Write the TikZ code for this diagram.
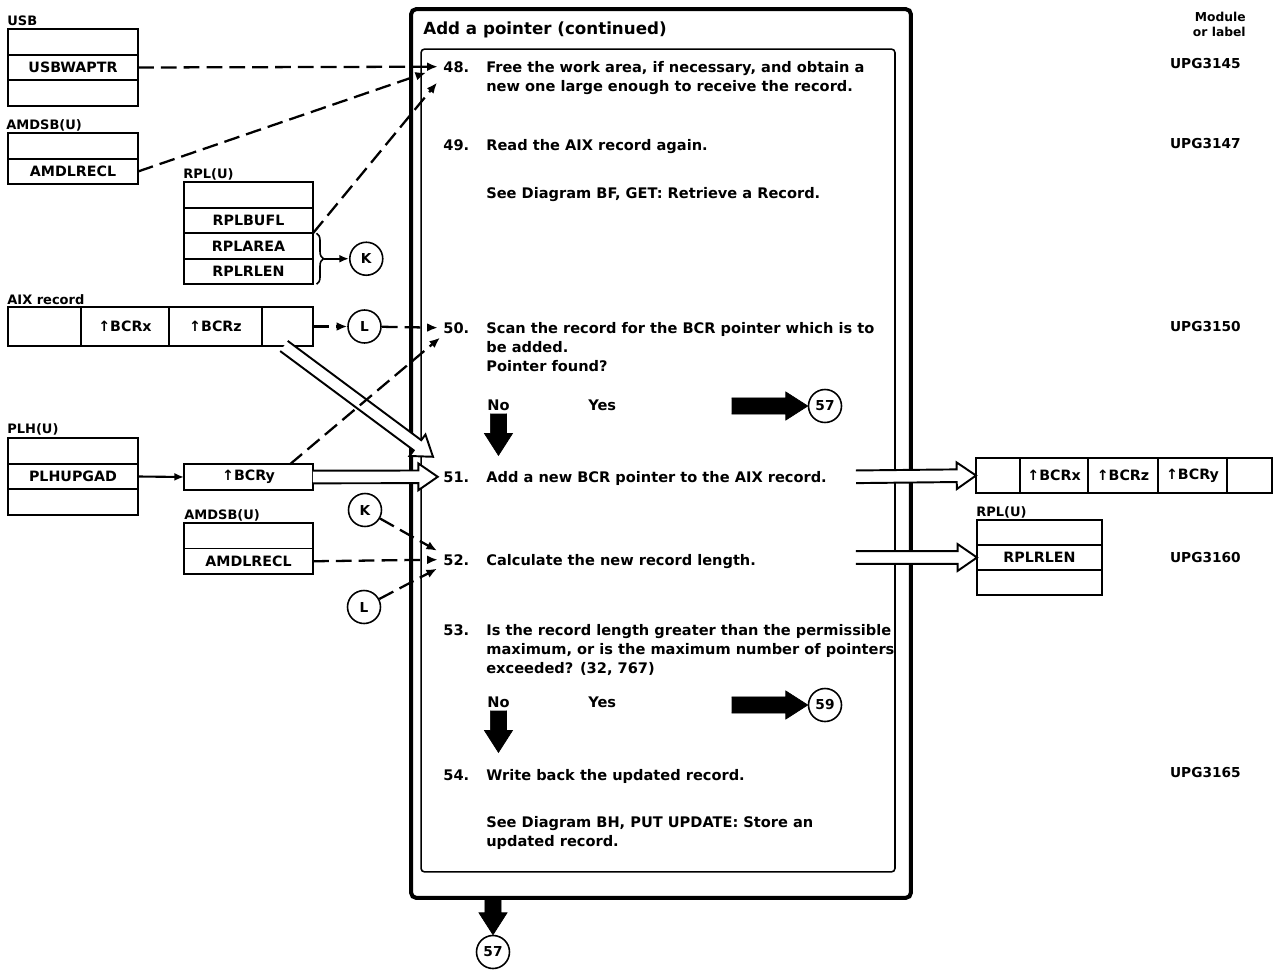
\documentclass[tikz,border=0pt]{standalone}
\usepackage{fontspec}
\setmainfont{DejaVu Sans}
\usetikzlibrary{positioning,calc,arrows.meta,decorations.pathreplacing}

\begin{document}
\begin{tikzpicture}[x=0.02cm,y=-0.02cm,
  lbl/.style={font=\bfseries\fontsize{7.4}{9}\selectfont,inner sep=0,anchor=base west},
  fld/.style={draw,line width=0.9pt,inner sep=0,outer sep=0,minimum height=0.51cm,
              font=\bfseries\fontsize{8.1}{9}\selectfont},
  num/.style={font=\bfseries\fontsize{8.3}{10.9}\selectfont,inner sep=0,anchor=base west},
  stp/.style={num,align=left},
  mod/.style={font=\bfseries\fontsize{7.8}{9}\selectfont,inner sep=0,anchor=base east},
  conn/.style={draw,circle,line width=0.9pt,minimum size=0.66cm,inner sep=0,
               font=\bfseries\fontsize{7.8}{9}\selectfont},
  dsh/.style={line width=1.3pt,dash pattern=on 9pt off 4pt,-{Latex[length=6pt,width=5pt]}},
  arr/.style={line width=1.2pt,-{Latex[length=5.5pt,width=4.5pt]}},
  fat/.style={to path={
    ($(\tikztostart)!\asw!90:(\tikztotarget)$)
    -- ($(\tikztotarget)!\ahl!(\tikztostart)!\asw!90:(\tikztotarget)$)
    -- ($(\tikztotarget)!\ahl!(\tikztostart)!\ahw!90:(\tikztotarget)$)
    -- (\tikztotarget)
    -- ($(\tikztotarget)!\ahl!(\tikztostart)!\ahw!-90:(\tikztotarget)$)
    -- ($(\tikztotarget)!\ahl!(\tikztostart)!\asw!-90:(\tikztotarget)$)
    -- ($(\tikztostart)!\asw!-90:(\tikztotarget)$)}},
  blk/.style={fat,fill=black,draw=black,line width=0.4pt,
              /utils/exec={\def\asw{4.6pt}\def\ahw{8pt}\def\ahl{12.5pt}}},
  hol/.style={fat,fill=white,draw=black,line width=1.1pt,line join=miter,
              /utils/exec={\def\asw{3.6pt}\def\ahw{7.6pt}\def\ahl{11pt}}}]
  \fill[white] (0,0) rectangle (1274,970);

  % frames
  \node[draw,line width=2.3pt,rounded corners=3pt,inner sep=0,outer sep=0,
        minimum width=10cm,minimum height=17.78cm] (frame) at (661,453.5) {};
  \node[draw,line width=0.9pt,rounded corners=2pt,inner sep=0,outer sep=0,
        minimum width=9.48cm,minimum height=16.46cm] (panel) at (658,460.5) {};
  \node[font=\bfseries\fontsize{9.5}{11}\selectfont,inner sep=0,anchor=base west]
        (title) at (423,34) {Add a pointer (continued)};
  \node[font=\bfseries\fontsize{7}{8.5}\selectfont,inner sep=0,anchor=north east,align=right]
        (modhd) at (1246,12) {Module\\or label};

  % control blocks, left
  \node[lbl] (usbl) at (7,26) {USB};
  \node[fld,minimum width=2.6cm] (usb1) at (73,42) {};
  \node[fld,minimum width=2.6cm,below=0pt of usb1] (usb2) {USBWAPTR};
  \node[fld,minimum width=2.6cm,below=0pt of usb2] (usb3) {};

  \node[lbl] (amdal) at (6,129) {AMDSB(U)};
  \node[fld,minimum width=2.6cm] (amda1) at (73,146) {};
  \node[fld,minimum width=2.6cm,below=0pt of amda1] (amda2) {AMDLRECL};

  \node[lbl] (rpll) at (183,178) {RPL(U)};
  \node[fld,minimum width=2.58cm] (rpl1) at (248.5,195) {};
  \node[fld,minimum width=2.58cm,below=0pt of rpl1] (rpl2) {RPLBUFL};
  \node[fld,minimum width=2.58cm,below=0pt of rpl2] (rpl3) {RPLAREA};
  \node[fld,minimum width=2.58cm,below=0pt of rpl3] (rpl4) {RPLRLEN};

  \node[lbl] (aixl) at (7,304) {AIX record};
  \node[fld,minimum width=1.46cm,minimum height=0.78cm] (aix1) at (44.5,326.5) {};
  \node[fld,minimum width=1.76cm,minimum height=0.78cm,right=0pt of aix1] (aix2) {↑BCRx};
  \node[fld,minimum width=1.86cm,minimum height=0.78cm,right=0pt of aix2] (aix3) {↑BCRz};
  \node[fld,minimum width=1.02cm,minimum height=0.78cm,right=0pt of aix3] (aix4) {};

  \node[lbl] (plhl) at (7,433) {PLH(U)};
  \node[fld,minimum width=2.6cm] (plh1) at (73,451) {};
  \node[fld,minimum width=2.6cm,below=0pt of plh1] (plh2) {PLHUPGAD};
  \node[fld,minimum width=2.6cm,below=0pt of plh2] (plh3) {};
  \node[fld,minimum width=2.58cm] (bcry) at (248.5,477) {↑BCRy};

  \node[lbl] (amdbl) at (184,519) {AMDSB(U)};
  \node[fld,minimum width=2.58cm] (amdb1) at (248.5,535.75) {};
  \node[fld,minimum width=2.58cm,below=0pt of amdb1] (amdb2) {AMDLRECL};

  % connectors
  \coordinate (brtip) at ($(rpl3.north east)!.5!(rpl4.south east)+(11,0)$);
  \node[conn,right=0.5cm of brtip] (kc1) {K};
  \node[conn] (lc1) at (364.5,326.5) {L};
  \node[conn] (kc2) at (365,510) {K};
  \node[conn] (lc2) at (364,607) {L};

  % control blocks, right
  \node[fld,minimum width=0.88cm,minimum height=0.7cm] (rec1) at (998,475.5) {};
  \node[fld,minimum width=1.36cm,minimum height=0.7cm,right=0pt of rec1] (rec2) {↑BCRx};
  \node[fld,minimum width=1.4cm,minimum height=0.7cm,right=0pt of rec2] (rec3) {↑BCRz};
  \node[fld,minimum width=1.38cm,minimum height=0.7cm,right=0pt of rec3] (rec4) {↑BCRy};
  \node[fld,minimum width=0.9cm,minimum height=0.7cm,right=0pt of rec4] (rec5) {};

  \node[lbl] (rplrl) at (976,516) {RPL(U)};
  \node[fld,minimum width=2.5cm,minimum height=0.5cm] (rplr1) at (1039.5,532.5) {};
  \node[fld,minimum width=2.5cm,minimum height=0.5cm,below=0pt of rplr1] (rplr2) {RPLRLEN};
  \node[fld,minimum width=2.5cm,minimum height=0.5cm,below=0pt of rplr2] (rplr3) {};

  % steps (multi-line texts sit on the baseline of their last line)
  \node[num] (n48) at (443,72) {48.};
  \node[stp] (t48) at (486,91.2) {Free the work area, if necessary, and obtain a\\new one large enough to receive the record.};
  \node[num] (n49) at (443,150) {49.};
  \node[stp] (t49) at (486,150) {Read the AIX record again.};
  \node[stp] (r49) at (486,198) {See Diagram BF, GET: Retrieve a Record.};
  \node[num] (n50) at (443,333) {50.};
  \node[stp] (t50) at (486,371.5) {Scan the record for the BCR pointer which is to\\be added.\\Pointer found?};
  \node[stp] (no50) at (487,410) {No};
  \node[stp] (yes50) at (588,410) {Yes};
  \node[conn] (c57a) at (825,406) {57};
  \node[num] (n51) at (443,482) {51.};
  \node[stp] (t51) at (486,482) {Add a new BCR pointer to the AIX record.};
  \node[num] (n52) at (443,565) {52.};
  \node[stp] (t52) at (486,565) {Calculate the new record length.};
  \node[num] (n53) at (443,635) {53.};
  \node[stp] (t53) at (486,673.5) {Is the record length greater than the permissible\\maximum, or is the maximum number of pointers\\exceeded? (32, 767)};
  \node[stp] (no53) at (487,707) {No};
  \node[stp] (yes53) at (588,707) {Yes};
  \node[conn] (c59) at (825,705) {59};
  \node[num] (n54) at (443,780) {54.};
  \node[stp] (t54) at (486,780) {Write back the updated record.};
  \node[stp] (r54) at (486,846.2) {See Diagram BH, PUT UPDATE: Store an\\updated record.};
  \node[conn] (c57b) at (493,952) {57};

  % module labels
  \node[mod] (m48) at (1241,68) {UPG3145};
  \node[mod] (m49) at (1241,148) {UPG3147};
  \node[mod] (m50) at (1241,331) {UPG3150};
  \node[mod] (m52) at (1241,562) {UPG3160};
  \node[mod] (m54) at (1241,777) {UPG3165};

  % hollow arrows
  \coordinate (aixt) at ($(aix4.south west)+(22,0)$);
  \coordinate (o51) at ($(panel.east |- n51.west)+(-39,0)$);
  \coordinate (o52) at (o51 |- rplr2.west);
  \draw[hol] (aixt) to ([shift={(-10,-20)}]n51.west);
  \draw[hol] (bcry.east) to ([xshift=-3pt]n51.west);
  \draw[hol] (o51) to (rec1.west);
  \draw[hol] (o52) to (rplr2.west);

  % black arrows
  \coordinate (y50) at ($(c57a.west)+(-76,0)$);
  \coordinate (y53) at ($(c59.west)+(-76,0)$);
  \draw[blk] ([yshift=-1.7pt]no50.south) to ([yshift=-25.5pt]no50.south);
  \draw[blk] (y50) to (c57a.west);
  \draw[blk] ([yshift=-1.7pt]no53.south) to ([yshift=-25.5pt]no53.south);
  \draw[blk] (y53) to (c59.west);
  \draw[blk] (c57b |- frame.south) to (c57b.north);

  % dashed and solid arrows
  \draw[line width=0.9pt,decorate,decoration={brace,amplitude=4pt}]
       ([xshift=2pt]rpl3.north east) -- ([xshift=2pt]rpl4.south east);
  \draw[arr] (brtip) -- (kc1);
  \draw[arr] (plh2.east) -- (bcry.west);
  \draw[dsh] (usb2.east) -- ([xshift=-3pt]n48.west);
  \draw[dsh] (amda2.east) -- ([shift={(-17,6)}]n48.west);
  \draw[dsh] (rpl2.south east) -- ([shift={(-6,16)}]n48.west);
  \draw[dsh] (aix4.east) -- (lc1);
  \draw[dsh] (lc1) -- ([xshift=-3pt]n50.west);
  \draw[dsh] ($(bcry.north east)+(-23,0)$) -- ([shift={(-3,10)}]n50.west);
  \draw[dsh] (amdb2.east) -- ([xshift=-3pt]n52.west);
  \draw[dsh] (kc2) -- ([shift={(-6,-9)}]n52.west);
  \draw[dsh] (lc2) -- ([shift={(-6,9)}]n52.west);
\end{tikzpicture}
\end{document}
